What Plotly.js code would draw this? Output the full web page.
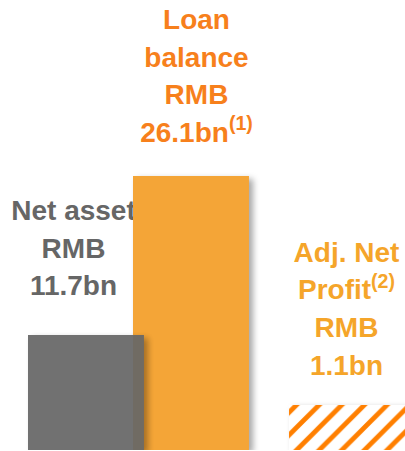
<!DOCTYPE html>
<html>
<head>
<meta charset="utf-8">
<script src="https://cdn.plot.ly/plotly-3.0.1.min.js"></script>
<style>
  html, body { margin: 0; padding: 0; background: #fff; }
  #chart { width: 405px; height: 451px; }
  .barlayer .point path { filter: drop-shadow(4px 3px 3px rgba(0,0,0,0.35)); }
</style>
</head>
<body>
<div id="chart"></div>
<script>
// ---- data ----
var categories = ["Net asset", "Loan balance", "Adj. Net Profit"];
var amountsRMBbn = [11.7, 26.1, 1.1];
// displayed bar heights (same scale as loan balance)
var barHeights = [10.95, 26.1, 4.29];
var labelLines = [
  ["Net asset", "RMB", "11.7bn"],
  ["Loan", "balance", "RMB", "26.1bn<sup>(1)</sup>"],
  ["Adj. Net", "Profit<sup>(2)</sup>", "RMB", "1.1bn"]
];

// ---- styles ----
var W = 405, H = 451;
var yMax = 42.86;
var pxPerX = W / 3;           // x range [-0.5, 2.5]
var pxPerY = (H - 1) / yMax;
var fontSize = 28;
var lineStep = 37.7;           // px between baselines
var midShift = 0.35 * fontSize;
var barWidth = 0.859;
var barOffsets = [-0.2926, -0.5148, -0.359];
var labelDx = [6, -6, 9];      // px shift of label centre from category centre
var labelGap = [37, 31, 27.5]; // px between bar top and last baseline
var labelColors = ["#666666", "#F7801C", "#F5A52A"];

var traces = [];
// labels (base subplot, drawn below the bars)
for (var i = 0; i < categories.length; i++) {
  var lines = labelLines[i], n = lines.length;
  var xs = [], ys = [];
  for (var k = 0; k < n; k++) {
    var fromBottom = n - 1 - k;
    xs.push(i + labelDx[i] / pxPerX);
    ys.push(barHeights[i] + (labelGap[i] + fromBottom * lineStep + midShift) / pxPerY);
  }
  traces.push({
    type: "scatter", mode: "text",
    x: xs, y: ys, text: lines,
    textposition: "middle center",
    textfont: { family: "Liberation Sans, Arial, sans-serif", size: fontSize, color: labelColors[i], weight: "bold" },
    cliponaxis: false, hoverinfo: "skip", showlegend: false,
    xaxis: "x", yaxis: "y"
  });
}
// bars (overlay subplot): loan, then net asset on top, then profit
function barTrace(idx, marker) {
  return {
    type: "bar",
    x: [categories[idx]], y: [barHeights[idx]],
    width: [barWidth], offset: [barOffsets[idx]],
    marker: marker,
    hoverinfo: "skip", showlegend: false,
    xaxis: "x2", yaxis: "y2"
  };
}
traces.push(barTrace(1, { color: "#F4A537", line: { width: 0 } }));
traces.push(barTrace(0, { color: "#676767", opacity: 0.93, line: { width: 0 } }));
traces.push(barTrace(2, { color: "#FFFFFF", line: { width: 0 },
  pattern: { shape: "/", fgcolor: "#FF7F00", bgcolor: "#FFFFFF", size: 16, solidity: 0.3 } }));

var axHidden = { visible: false, showgrid: false, zeroline: false, fixedrange: true };
var layout = {
  width: W, height: H,
  margin: { l: 0, r: 0, t: 0, b: 1, pad: 0 },
  paper_bgcolor: "#FFFFFF", plot_bgcolor: "rgba(0,0,0,0)",
  barmode: "overlay",
  showlegend: false,
  xaxis: Object.assign({ type: "linear", range: [-0.5, 2.5] }, axHidden),
  yaxis: Object.assign({ range: [0, yMax] }, axHidden),
  xaxis2: Object.assign({ type: "category", categoryorder: "array", categoryarray: categories,
                          range: [-0.5, 2.5], overlaying: "x" }, axHidden),
  yaxis2: Object.assign({ range: [0, yMax], overlaying: "y" }, axHidden)
};

Plotly.newPlot("chart", traces, layout, { staticPlot: true, displayModeBar: false });
</script>
</body>
</html>
